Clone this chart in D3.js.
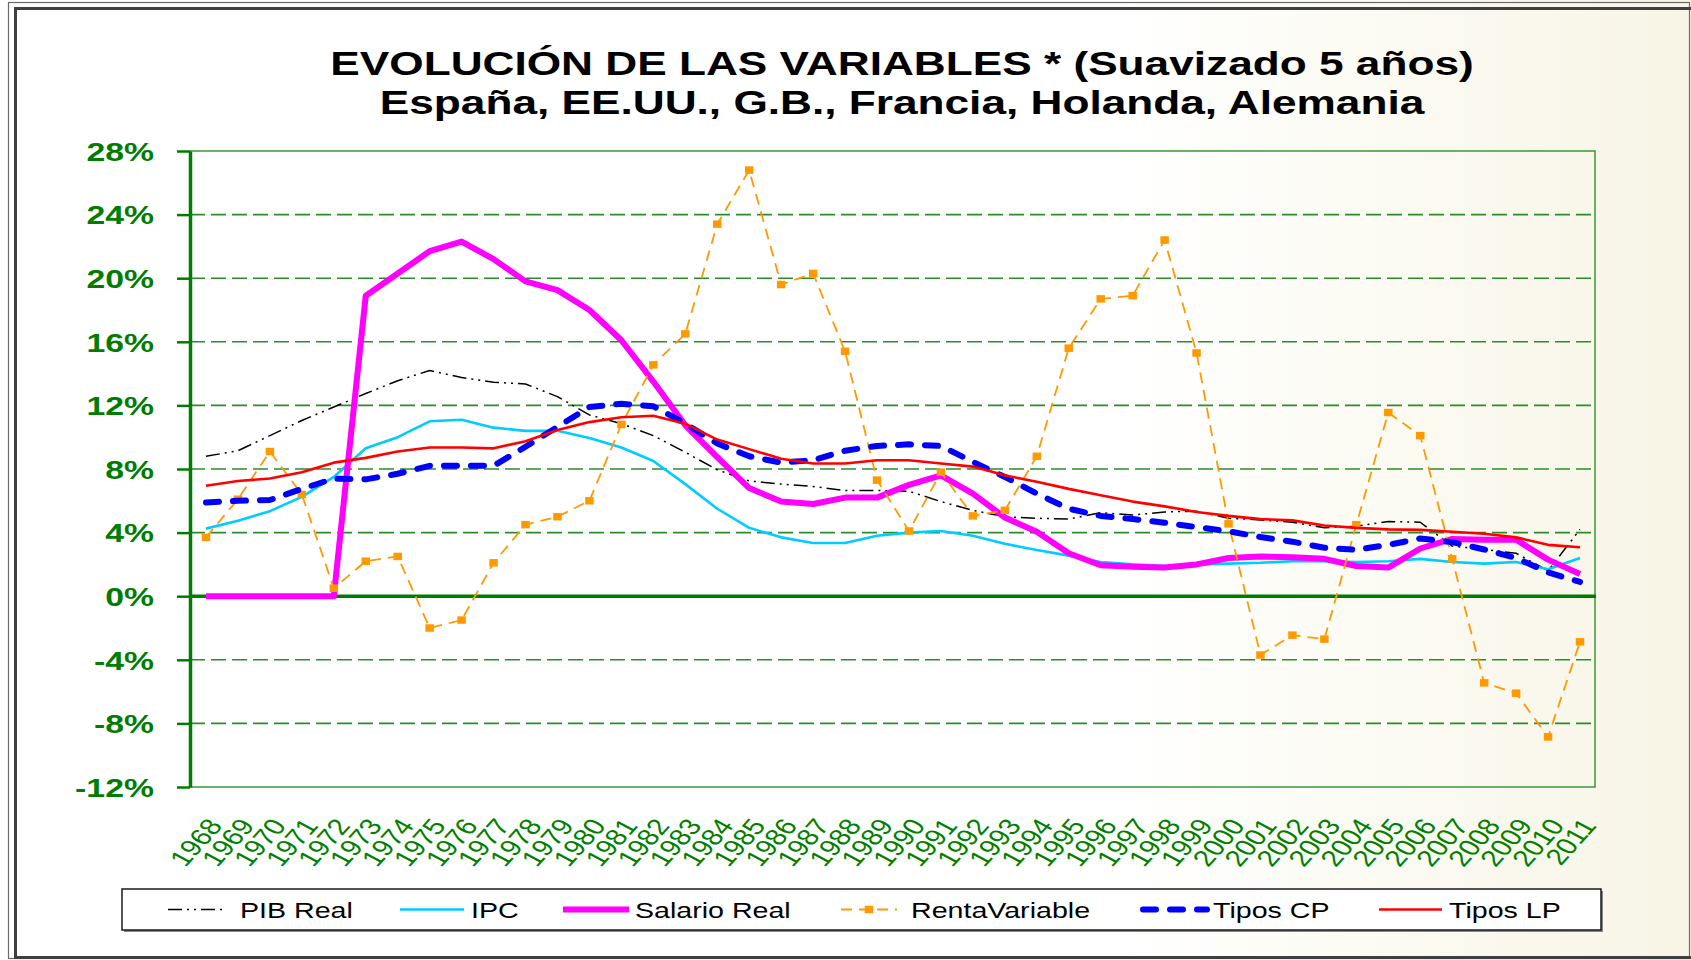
<!DOCTYPE html>
<html>
<head>
<meta charset="utf-8">
<script src="https://cdn.jsdelivr.net/npm/d3@7"></script>
<style>
  html, body { margin: 0; padding: 0; background: #fff; }
  svg { display: block; }
</style>
</head>
<body>
<div id="field"></div>
<script>
'use strict';

// categories
const years = ['1968', '1969', '1970', '1971', '1972', '1973', '1974', '1975', '1976', '1977', '1978',
  '1979', '1980', '1981', '1982', '1983', '1984', '1985', '1986', '1987', '1988', '1989', '1990',
  '1991', '1992', '1993', '1994', '1995', '1996', '1997', '1998', '1999', '2000', '2001', '2002',
  '2003', '2004', '2005', '2006', '2007', '2008', '2009', '2010', '2011'];

// series values, in %
const pibReal = [8.8, 9.15, 10.1, 11.05, 11.9, 12.75, 13.55, 14.2, 13.75, 13.45, 13.35, 12.55, 11.4,
  10.85, 10.1, 9.05, 7.95, 7.25, 7.05, 6.9, 6.65, 6.65, 6.6, 5.95, 5.4, 5.0, 4.9, 4.85, 5.25, 5.1,
  5.3, 5.35, 4.9, 4.8, 4.65, 4.3, 4.4, 4.7, 4.65, 3.15, 2.95, 2.7, 1.6, 4.2];
const ipc = [4.25, 4.75, 5.35, 6.25, 7.5, 9.3, 10.0, 11.0, 11.1, 10.6, 10.4, 10.4, 9.95, 9.35, 8.5,
  7.05, 5.5, 4.3, 3.7, 3.35, 3.35, 3.8, 4.0, 4.1, 3.8, 3.3, 2.9, 2.55, 2.15, 2.0, 1.9, 2.0, 2.05,
  2.1, 2.2, 2.2, 2.15, 2.2, 2.35, 2.15, 2.05, 2.15, 1.7, 2.4];
const salarioReal = [0, 0, 0, 0, 0, 18.9, 20.3, 21.7, 22.3, 21.2, 19.8, 19.25, 18.0, 16.1, 13.5,
  10.75, 8.75, 6.8, 5.95, 5.8, 6.2, 6.2, 7.0, 7.6, 6.45, 4.95, 4.05, 2.7, 1.95, 1.85, 1.8, 2.0, 2.4,
  2.5, 2.45, 2.35, 1.9, 1.8, 3.0, 3.6, 3.55, 3.55, 2.3, 1.4];
const rentaVariable = [3.7, 6.1, 9.1, 6.4, 0.5, 2.2, 2.5, -2.0, -1.5, 2.1, 4.5, 5.0, 6.0, 10.8,
  14.55, 16.5, 23.4, 26.8, 19.6, 20.3, 15.4, 7.3, 4.1, 7.8, 5.05, 5.4, 8.8, 15.6, 18.7, 18.9, 22.4,
  15.3, 4.55, -3.7, -2.45, -2.7, 4.5, 11.55, 10.1, 2.35, -5.45, -6.1, -8.85, -2.87];
const tiposCP = [5.9, 6.0, 6.05, 6.75, 7.4, 7.35, 7.7, 8.2, 8.2, 8.2, 9.4, 10.65, 11.9, 12.1, 11.95,
  10.85, 9.6, 8.8, 8.4, 8.55, 9.15, 9.45, 9.55, 9.45, 8.45, 7.5, 6.45, 5.5, 5.05, 4.85, 4.62, 4.35,
  4.08, 3.72, 3.43, 3.05, 2.92, 3.23, 3.63, 3.4, 2.94, 2.4, 1.5, 0.9];
const tiposLP = [6.95, 7.25, 7.4, 7.8, 8.4, 8.7, 9.1, 9.35, 9.35, 9.3, 9.75, 10.45, 10.95, 11.25,
  11.35, 10.85, 9.85, 9.25, 8.65, 8.35, 8.35, 8.55, 8.55, 8.35, 8.15, 7.6, 7.2, 6.75, 6.35, 5.95,
  5.65, 5.3, 5.05, 4.85, 4.77, 4.45, 4.3, 4.2, 4.17, 4.05, 3.93, 3.7, 3.23, 3.08];

// tick labels
const yTicks = [-12, -8, -4, 0, 4, 8, 12, 16, 20, 24, 28];
const titleLines = ['EVOLUCIÓN DE LAS VARIABLES * (Suavizado 5 años)',
  'España, EE.UU., G.B., Francia, Holanda, Alemania'];

const FONT = '"Liberation Sans", Arial, sans-serif';
const SX = 1.3;   // the original picture is stretched sideways

function D3Chart(setting) {
  let w = setting.w,
      h = setting.h,
      m = {left: 190, right: 1596, top: 151, bottom: 787},
      x = d3.scalePoint().domain(years).range([m.left, m.right]).padding(0.5),
      y = d3.scaleLinear().domain([-12, 28]).range([m.bottom, m.top]),
      svg = d3.select('#field').append('svg').attr('width', w).attr('height', h),
      green = '#007d00';

  let series = [
    {name: 'PIB Real', values: pibReal, color: '#000', width: 1.5, dash: '14,5,2,5,2,5', lx: 168, lw: 58, tx: 240},
    {name: 'IPC', values: ipc, color: '#00ccff', width: 2.6, dash: null, lx: 400, lw: 64, tx: 471},
    {name: 'Salario Real', values: salarioReal, color: '#ff00ff', width: 6, dash: null, lx: 563, lw: 66, tx: 635},
    {name: 'RentaVariable', values: rentaVariable, color: '#ff9900', width: 1.8, dash: '11,7', marker: true, lx: 841, lw: 56, tx: 911},
    {name: 'Tipos CP', values: tiposCP, color: '#0000ff', width: 6, dash: '13,14', cap: 'round', lx: 1143, lw: 64, tx: 1213},
    {name: 'Tipos LP', values: tiposLP, color: '#ff0000', width: 2.6, dash: null, lx: 1379, lw: 63, tx: 1449}
  ];

  function stretched(parent, px, py, str, anchor, font, fill) {
    return parent.append('g').attr('transform', 'translate(' + px + ',' + py + ') scale(' + SX + ',1)')
      .append('text').attr('text-anchor', anchor).style('font', font).attr('fill', fill).text(str);
  }

  // background with the cream texture on the right
  let grad = svg.append('defs').append('linearGradient').attr('id', 'bg').attr('x1', 0).attr('x2', 1).attr('y1', 0).attr('y2', 0);
  grad.append('stop').attr('offset', '0%').attr('stop-color', '#ffffff');
  grad.append('stop').attr('offset', '66%').attr('stop-color', '#ffffff');
  grad.append('stop').attr('offset', '80%').attr('stop-color', '#fcfbf4');
  grad.append('stop').attr('offset', '100%').attr('stop-color', '#f8f5e6');
  svg.append('rect').attr('width', w).attr('height', h).attr('fill', 'url(#bg)');

  // frame
  svg.append('rect').attr('x', 8.5).attr('y', 2.5).attr('width', 1681).attr('height', 956)
    .attr('fill', 'none').attr('stroke', '#6a6a6a').attr('stroke-width', 1.2);
  svg.append('rect').attr('x', 15.5).attr('y', 8.5).attr('width', 1690).attr('height', 949)
    .attr('fill', 'none').attr('stroke', '#3f3f3f').attr('stroke-width', 3);

  // title
  titleLines.forEach(function(t, i) {
    stretched(svg, 902, 75 + i * 39, t, 'middle', 'bold 34px ' + FONT, '#000');
  });

  // grid
  svg.append('g').selectAll('line').data(yTicks.filter(function(d){ return d !== 0 && d !== -12 && d !== 28; }))
    .enter().append('line')
    .attr('x1', m.left).attr('x2', m.right - 1).attr('y1', function(d){ return y(d); }).attr('y2', function(d){ return y(d); })
    .attr('stroke', '#2b8c2b').attr('stroke-width', 1.6).attr('stroke-dasharray', '15,6');
  svg.append('rect').attr('x', m.left).attr('y', y(28)).attr('width', m.right - 1 - m.left).attr('height', y(-12) - y(28))
    .attr('fill', 'none').attr('stroke', '#3c963c').attr('stroke-width', 1.5);
  svg.append('line').attr('x1', m.left).attr('x2', m.right).attr('y1', y(0)).attr('y2', y(0))
    .attr('stroke', green).attr('stroke-width', 3.5);

  // y axis
  let yAxis = svg.append('g').attr('transform', 'translate(' + m.left + ',0)')
    .call(d3.axisLeft(y).tickValues(yTicks).tickSize(13).tickSizeOuter(0).tickFormat(function(d){ return d + '%'; }));
  yAxis.select('.domain').attr('stroke', green).attr('stroke-width', 3.5);
  yAxis.selectAll('.tick line').attr('stroke', green).attr('stroke-width', 2.5);
  yAxis.selectAll('.tick text').attr('x', null).attr('dy', '0.36em')
    .attr('transform', 'translate(-36,0) scale(' + SX + ',1)')
    .attr('fill', green).style('font', 'bold 26px ' + FONT);

  // x axis
  let xAxis = svg.append('g').attr('transform', 'translate(0,' + m.bottom + ')')
    .call(d3.axisBottom(x).tickSize(0));
  xAxis.select('.domain').remove();
  xAxis.selectAll('.tick text').attr('y', null).attr('dy', null).attr('text-anchor', 'end')
    .attr('transform', 'translate(17,39) scale(' + SX + ',1) rotate(-55)')
    .attr('fill', '#008000').style('font', '23px ' + FONT);

  // lines
  let line = d3.line().x(function(d, i){ return x(years[i]); }).y(function(d){ return y(d); });
  series.forEach(function(s) {
    svg.append('path').datum(s.values).attr('d', line).attr('fill', 'none')
      .attr('stroke', s.color).attr('stroke-width', s.width).attr('stroke-dasharray', s.dash)
      .attr('stroke-linecap', s.cap || 'butt').attr('stroke-linejoin', 'round');
    if (s.marker) {
      svg.append('g').selectAll('rect').data(s.values).enter().append('rect')
        .attr('x', function(d, i){ return x(years[i]) - 4.25; }).attr('y', function(d){ return y(d) - 3.75; })
        .attr('width', 8.5).attr('height', 7.5).attr('fill', s.color);
    }
  });

  // legend
  let lg = svg.append('g');
  lg.append('rect').attr('x', 124).attr('y', 891).attr('width', 1479).attr('height', 41).attr('fill', '#888');
  lg.append('rect').attr('x', 122).attr('y', 889).attr('width', 1479).attr('height', 41)
    .attr('fill', '#fff').attr('stroke', '#1a1a1a').attr('stroke-width', 1.5);
  series.forEach(function(s) {
    lg.append('line').attr('x1', s.lx).attr('x2', s.lx + s.lw).attr('y1', 909.5).attr('y2', 909.5)
      .attr('stroke', s.color).attr('stroke-width', s.width).attr('stroke-dasharray', s.dash)
      .attr('stroke-linecap', s.cap || 'butt');
    if (s.marker) {
      lg.append('rect').attr('x', s.lx + s.lw / 2 - 4.25).attr('y', 909.5 - 3.75).attr('width', 8.5).attr('height', 7.5).attr('fill', s.color);
    }
    stretched(lg, s.tx, 918, s.name, 'start', '22px ' + FONT, '#000');
  });
}

let chart = new D3Chart({
  w: 1691,
  h: 960
});
</script>
</body>
</html>
